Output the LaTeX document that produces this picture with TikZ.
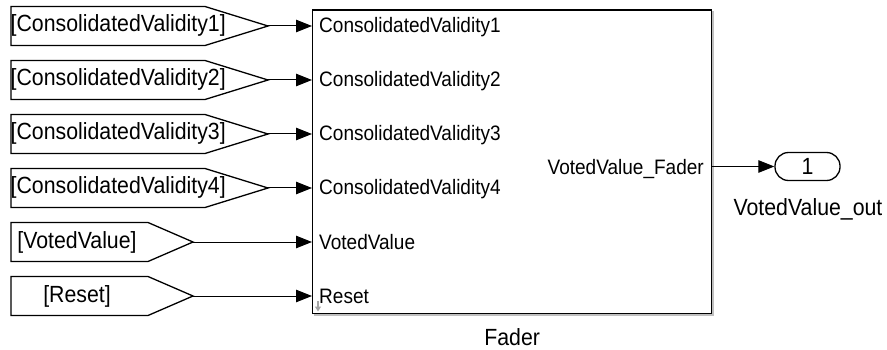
\documentclass[tikz,border=0pt]{standalone}
\usepackage{fontspec}
\setmainfont{Liberation Sans}[FakeStretch=0.91]
\usetikzlibrary{arrows.meta}

\tikzset{
  tagshape/.style={draw=black, line width=1.3pt, fill=white, line join=miter},
  biglabel/.style={inner sep=0pt, font=\fontsize{23.4}{28}\selectfont},
  portlabel/.style={inner sep=0pt, font=\fontsize{20.9}{25}\selectfont},
  sigline/.style={draw=black, line width=1pt, -{Triangle[length=16pt,width=12.5pt]}},
  blockbox/.style={draw=black, line width=1.4pt, fill=white, inner sep=0pt},
}

\begin{document}
\begin{tikzpicture}[x=1pt,y=-1pt]
  \useasboundingbox (0,0) rectangle (887,350);

  % Fader subsystem block with a faint drop shadow
  \fill[black!25] (314,11.5) rectangle (713.5,315.5);
  \node[blockbox, anchor=north west, minimum width=399pt, minimum height=303.5pt]
    (fader) at (312,9.5) {};

  % wide goto/from tags
  \foreach \y/\lbl/\nm in {26/{[ConsolidatedValidity1]}/t1,
                           80/{[ConsolidatedValidity2]}/t2,
                           134/{[ConsolidatedValidity3]}/t3,
                           188/{[ConsolidatedValidity4]}/t4}{
    \draw[tagshape] (11,\y-19.5) -- (205,\y-19.5) -- (268,\y) -- (205,\y+19.5)
      -- (11,\y+19.5) -- cycle;
    \coordinate (\nm) at (268,\y);
    \node[biglabel, anchor=base west] (\nm txt) at (10.5,\y+6) {\lbl};
  }

  % narrow tags
  \foreach \y/\lbl/\nm in {242/{[VotedValue]}/t5, 296/{[Reset]}/t6}{
    \draw[tagshape] (11,\y-19.5) -- (148,\y-19.5) -- (193,\y) -- (148,\y+19.5)
      -- (11,\y+19.5) -- cycle;
    \coordinate (\nm) at (193,\y);
    \node[biglabel, anchor=base] (\nm txt) at (77,\y+6) {\lbl};
  }

  % signal lines into the block
  \foreach \nm in {t1,t2,t3,t4,t5,t6}{
    \draw[sigline] (\nm) -- (\nm -| fader.west);
  }

  % input port labels
  \foreach \y/\lbl/\nm in {26/ConsolidatedValidity1/p1,
                           80/ConsolidatedValidity2/p2,
                           134/ConsolidatedValidity3/p3,
                           188/ConsolidatedValidity4/p4,
                           242/VotedValue/p5,
                           296/Reset/p6}{
    \node[portlabel, anchor=base west] (\nm) at (319,\y+7) {\lbl};
  }

  % output port label
  \node[portlabel, anchor=base east] (pout) at (704,175) {VotedValue\_Fader};

  % outport block
  \node[draw=black, line width=1.3pt, rounded corners=13.5pt, minimum width=65pt,
        minimum height=28pt, inner sep=0pt, font=\fontsize{23.4}{28}\selectfont]
    (out) at (807.5,166.5) {1};
  \draw[sigline] (fader.east |- out.west) -- (out.west);
  \node[biglabel, anchor=base] (outlbl) at (808,215) {VotedValue\_out};

  % block name
  \node[biglabel, anchor=base] (fadername) at (fader.south |- 0,345) {Fader};

  % small grey marker in the block corner
  \draw[black!35, line width=1.5pt, -{Triangle[length=5pt,width=6pt]}]
    (318,301) -- (318,311.5);
\end{tikzpicture}
\end{document}
